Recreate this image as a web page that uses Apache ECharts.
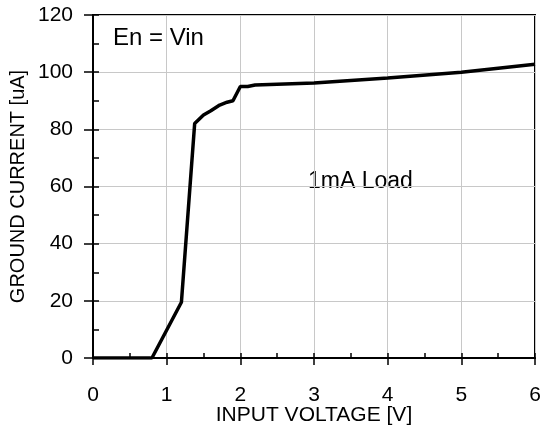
<!DOCTYPE html>
<html><head><meta charset="utf-8">
<script src="https://cdn.jsdelivr.net/npm/echarts@6/dist/echarts.min.js"></script>
<style>html,body{margin:0;padding:0;background:#fff}#c{width:546px;height:429px}</style>
</head><body><div id="c"></div>
<script>
const xTicks = [0,1,2,3,4,5,6];
const yTicks = [0,20,40,60,80,100,120];
const voltage = [0,0.8,1.2,1.38,1.5,1.6,1.72,1.82,1.9,2.0,2.1,2.2,3,4,5,6];
const current = [0,0,19.5,82,85,86.5,88.5,89.5,90,95,95,95.5,96.2,98,100,102.8];
const xTitle = 'INPUT VOLTAGE [V]';
const yTitle = 'GROUND CURRENT [uA]';
const note1 = 'En = Vin';
const note2 = '1mA Load';

const F = 'Liberation Sans, Arial, sans-serif';
const chart = echarts.init(document.getElementById('c'));
const baseX = {type:'value', min:xTicks[0], max:xTicks[xTicks.length-1], interval:1, position:'bottom'};
const baseY = {type:'value', min:yTicks[0], max:yTicks[yTicks.length-1], interval:20, position:'left'};
chart.setOption({
  animation:false,
  grid:{left:93,right:11,top:15,bottom:71,outerBoundsMode:'none',containLabel:false,show:true,borderColor:'#000',borderWidth:2,backgroundColor:'transparent'},
  xAxis:[
    Object.assign({}, baseX, {
      name:xTitle, nameLocation:'middle', nameGap:47, nameMoveOverlap:false,
      nameTextStyle:{color:'#000',fontSize:21,fontFamily:F},
      axisLine:{lineStyle:{color:'#000',width:2}},
      axisTick:{inside:true,length:5,lineStyle:{color:'#000',width:1.5}},
      minorTick:{show:true,splitNumber:2,length:5,lineStyle:{color:'#000',width:1.5}},
      axisLabel:{color:'#000',fontSize:21,fontFamily:F,margin:27},
      splitLine:{show:true,lineStyle:{color:'#c8c8c8',width:1}}
    }),
    Object.assign({}, baseX, {
      axisLine:{show:false}, axisLabel:{show:false}, splitLine:{show:false},
      axisTick:{inside:false,length:7,lineStyle:{color:'#000',width:1.5}}
    })
  ],
  yAxis:[
    Object.assign({}, baseY, {
      name:yTitle, nameLocation:'middle', nameGap:65, nameMoveOverlap:false,
      nameTextStyle:{color:'#000',fontSize:20,fontFamily:F},
      axisLine:{lineStyle:{color:'#000',width:2}},
      axisTick:{inside:true,length:6,lineStyle:{color:'#000',width:1.5}},
      minorTick:{show:true,splitNumber:2,length:6,lineStyle:{color:'#000',width:1.5}},
      axisLabel:{color:'#000',fontSize:21,fontFamily:F,margin:20},
      splitLine:{show:true,lineStyle:{color:'#c8c8c8',width:1}}
    }),
    Object.assign({}, baseY, {
      axisLine:{show:false}, axisLabel:{show:false}, splitLine:{show:false},
      axisTick:{inside:false,length:9,lineStyle:{color:'#000',width:1.5}}
    })
  ],
  series:[{
    type:'line', xAxisIndex:0, yAxisIndex:0,
    data: voltage.map((v,i)=>[v,current[i]]),
    showSymbol:false, symbol:'none',
    lineStyle:{color:'#000',width:3.5},
    z:5
  }],
  graphic:[
    {type:'text', left:113, top:26, style:{text:note1, fill:'#000', font:'24px '+F}},
    {type:'text', left:308, top:170, style:{text:note2, fill:'#000', font:'23px '+F}}
  ]
});
</script></body></html>
